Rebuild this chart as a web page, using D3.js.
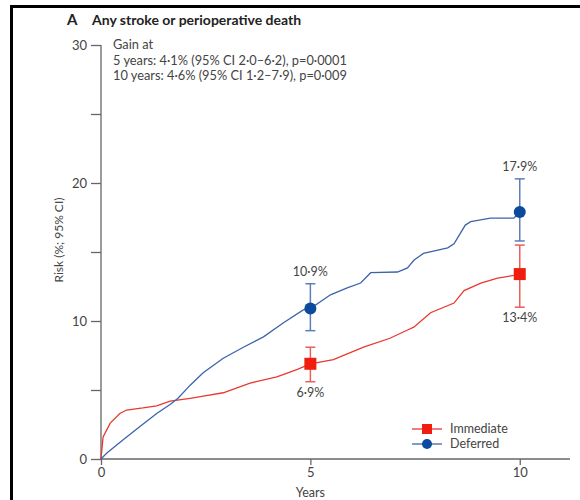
<!DOCTYPE html>
<html>
<head>
<meta charset="utf-8">
<script src="https://cdn.jsdelivr.net/npm/d3@7"></script>
<style>
  body { margin: 0; background: #fff; }
  svg { font-family: Lato, "Open Sans", sans-serif; }
</style>
</head>
<body>
<svg class="chart" width="580" height="500"></svg>
<script>
// Kaplan-Meier style curves (years, risk %)
var immTime = [0, 0.05, 0.22, 0.45, 0.61, 1.0, 1.33, 1.65, 2.13, 2.44, 2.92, 3.56, 4.2, 4.69, 4.93, 5.0, 5.55, 6.27, 6.9, 7.32, 7.47, 7.87, 8.43, 8.67, 9.07, 9.47, 9.86, 10.0];
var immRisk = [0, 1.6, 2.6, 3.3, 3.55, 3.7, 3.85, 4.2, 4.4, 4.55, 4.8, 5.5, 5.95, 6.5, 6.8, 6.9, 7.2, 8.1, 8.75, 9.35, 9.55, 10.6, 11.3, 12.2, 12.75, 13.1, 13.3, 13.4];
var defTime = [0, 0.14, 0.53, 0.93, 1.33, 1.65, 1.84, 2.13, 2.44, 2.92, 3.4, 3.88, 4.35, 4.83, 5.0, 5.48, 5.88, 6.2, 6.44, 7.08, 7.32, 7.47, 7.7, 8.28, 8.43, 8.7, 8.83, 9.3, 9.86, 10.0];
var defRisk = [0, 0.43, 1.4, 2.35, 3.3, 3.95, 4.4, 5.35, 6.25, 7.3, 8.1, 8.85, 9.85, 10.8, 10.9, 11.9, 12.4, 12.75, 13.5, 13.55, 13.85, 14.4, 14.9, 15.3, 15.6, 16.95, 17.2, 17.45, 17.45, 17.9];

// point estimates with 95% CI at 5 and 10 years
var markYears = [5, 10];
var immEst = [6.9, 13.4], immLo = [5.6, 11.0], immHi = [8.1, 15.5];
var defEst = [10.9, 17.9], defLo = [9.3, 15.8], defHi = [12.7, 20.3];
var immLabels = ["6·9%", "13·4%"];
var defLabels = ["10·9%", "17·9%"];

var yTicks = [0, 5, 10, 15, 20, 25, 30];
var yLabelled = [0, 10, 20, 30];
var xTicks = [0, 5, 10];

var gainLines = [
  "Gain at",
  "5 years: 4·1% (95% CI 2·0–6·2), p=0·0001",
  "10 years: 4·6% (95% CI 1·2–7·9), p=0·009"
];

var red = "#e8392e", blue = "#3d64a8";

var svg = d3.select("svg.chart");

// frame
svg.append("line").attr("x1", 10).attr("x2", 580).attr("y1", 6.5).attr("y2", 6.5)
    .attr("stroke", "#000").attr("stroke-width", 3);
svg.append("line").attr("x1", 11.5).attr("x2", 11.5).attr("y1", 5).attr("y2", 500)
    .attr("stroke", "#000").attr("stroke-width", 3);

var x = d3.scaleLinear().domain([0, 11.2]).range([101, 570]);
var y = d3.scaleLinear().domain([0, 30]).range([459, 45]);

var axisColor = "#666", textColor = "#444";

// y axis
var yAxis = svg.append("g")
    .attr("transform", "translate(" + x(0) + ",0)")
    .call(d3.axisLeft(y).tickValues(yTicks).tickSize(10).tickPadding(4)
      .tickFormat(function(d) { return yLabelled.indexOf(d) >= 0 ? d : ""; }));
yAxis.select(".domain").attr("d", "M0," + y(0) + "V" + y(30));

// x axis
var xAxis = svg.append("g")
    .attr("transform", "translate(0," + y(0) + ")")
    .call(d3.axisBottom(x).tickValues(xTicks).tickSize(6).tickPadding(3));
xAxis.select(".domain").attr("d", "M" + x(0) + ",0H" + x(11.2));

svg.selectAll(".domain, .tick line").attr("stroke", axisColor).attr("stroke-width", 1.3);
svg.selectAll(".tick text").attr("fill", textColor).attr("font-size", 13)
    .attr("font-family", "Lato, 'Open Sans', sans-serif");

svg.append("text")
    .attr("x", x(5)).attr("y", 497)
    .attr("text-anchor", "middle").attr("fill", textColor).attr("font-size", 12.5)
    .text("Years");

svg.append("text")
    .attr("transform", "translate(63," + 240 + ") rotate(-90)")
    .attr("text-anchor", "middle").attr("fill", textColor).attr("font-size", 12)
    .text("Risk (%; 95% CI)");

// title
svg.append("text").attr("x", 67).attr("y", 25)
    .attr("font-weight", "bold").attr("font-size", 15).attr("fill", "#222").text("A");
svg.append("text").attr("x", 92).attr("y", 25)
    .attr("font-weight", "bold").attr("font-size", 14).attr("fill", "#222")
    .text("Any stroke or perioperative death");

svg.append("g").selectAll("text")
    .data(gainLines)
    .enter().append("text")
      .attr("x", 113)
      .attr("y", function(d, i) { return 49 + i * 15.5; })
      .attr("font-size", 12.8).attr("fill", textColor)
      .text(function(d) { return d; });

// curves
var line = d3.line()
    .x(function(d) { return x(d[0]); })
    .y(function(d) { return y(d[1]); });

svg.append("path")
    .datum(d3.zip(immTime, immRisk))
    .attr("fill", "none").attr("stroke", red).attr("stroke-width", 1.3)
    .attr("d", line);
svg.append("path")
    .datum(d3.zip(defTime, defRisk))
    .attr("fill", "none").attr("stroke", blue).attr("stroke-width", 1.3)
    .attr("d", line);

// error bars
function errorBars(lo, hi, color) {
  var g = svg.append("g").attr("stroke", color).attr("stroke-width", 1.5);
  markYears.forEach(function(t, i) {
    g.append("line").attr("x1", x(t)).attr("x2", x(t)).attr("y1", y(lo[i])).attr("y2", y(hi[i]));
    g.append("line").attr("x1", x(t) - 5).attr("x2", x(t) + 5).attr("y1", y(lo[i])).attr("y2", y(lo[i]));
    g.append("line").attr("x1", x(t) - 5).attr("x2", x(t) + 5).attr("y1", y(hi[i])).attr("y2", y(hi[i]));
  });
}
errorBars(immLo, immHi, "#e8605a");
errorBars(defLo, defHi, "#5b7fb6");

svg.append("g").selectAll("rect")
    .data(markYears)
    .enter().append("rect")
      .attr("x", function(d) { return x(d) - 6; })
      .attr("y", function(d, i) { return y(immEst[i]) - 6; })
      .attr("width", 12).attr("height", 12)
      .attr("fill", "#f01e0e");

svg.append("g").selectAll("circle")
    .data(markYears)
    .enter().append("circle")
      .attr("cx", function(d) { return x(d); })
      .attr("cy", function(d, i) { return y(defEst[i]); })
      .attr("r", 6)
      .attr("fill", "#0b4a9c");

// value labels
svg.append("g").selectAll("text")
    .data(markYears)
    .enter().append("text")
      .attr("x", function(d) { return x(d); })
      .attr("y", function(d, i) { return y(defHi[i]) - 8; })
      .attr("text-anchor", "middle").attr("font-size", 12.5).attr("fill", textColor)
      .text(function(d, i) { return defLabels[i]; });

svg.append("g").selectAll("text")
    .data(markYears)
    .enter().append("text")
      .attr("x", function(d) { return x(d); })
      .attr("y", function(d, i) { return y(immLo[i]) + 15; })
      .attr("text-anchor", "middle").attr("font-size", 12.5).attr("fill", textColor)
      .text(function(d, i) { return immLabels[i]; });

// legend
var legendKeys = ["Immediate", "Deferred"];
var legendColors = [red, blue];
var legend = svg.append("g")
    .selectAll("g")
    .data(legendKeys)
    .enter().append("g")
      .attr("transform", function(d, i) { return "translate(412," + (429 + i * 15) + ")"; });

legend.append("line")
    .attr("x1", 0).attr("x2", 30)
    .attr("stroke", function(d, i) { return legendColors[i]; }).attr("stroke-width", 1.3);
legend.filter(function(d, i) { return i === 0; }).append("rect")
    .attr("x", 10).attr("y", -5).attr("width", 10).attr("height", 10).attr("fill", "#f01e0e");
legend.filter(function(d, i) { return i === 1; }).append("circle")
    .attr("cx", 15).attr("r", 5).attr("fill", "#0b4a9c");
legend.append("text")
    .attr("x", 38).attr("dy", "0.35em")
    .attr("font-size", 12.5).attr("fill", textColor)
    .text(function(d) { return d; });
</script>
</body>
</html>
